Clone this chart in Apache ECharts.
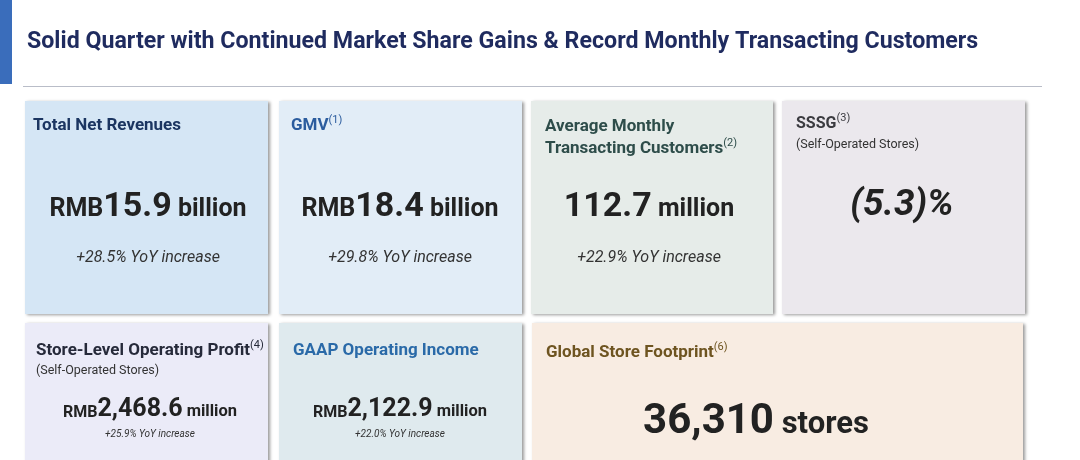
<!DOCTYPE html>
<html><head><meta charset="utf-8">
<script src="https://cdn.jsdelivr.net/npm/echarts@6/dist/echarts.min.js"></script>
<style>html,body{margin:0;padding:0;background:#fff}#c{width:1080px;height:460px}</style>
</head><body><div id="c"></div>
<script>
// ---------------- DATA ----------------
const pageTitle = 'Solid Quarter with Continued Market Share Gains & Record Monthly Transacting Customers';
const metricNames = [['Total Net Revenues'], ['GMV'], ['Average Monthly', 'Transacting Customers'], ['SSSG'],
  ['Store-Level Operating Profit'], ['GAAP Operating Income'], ['Global Store Footprint']];
const footnotes = ['', '1', '2', '3', '4', '', '6'];
const qualifiers = ['', '', '', '(Self-Operated Stores)', '(Self-Operated Stores)', '', ''];
const currencies = ['RMB', 'RMB', '', '', 'RMB', 'RMB', ''];
const metricValues = [15.9, 18.4, 112.7, -5.3, 2468.6, 2122.9, 36310];
const valueDecimals = [1, 1, 1, 1, 1, 1, 0];
const units = ['billion', 'billion', 'million', '%', 'million', 'million', 'stores'];
const yoyGrowth = [28.5, 29.8, 22.9, null, 25.9, 22.0, null];

// ---------------- LAYOUT / STYLE ----------------
const FONT = 'Roboto, "Open Sans", sans-serif';
const cards = [
  {x: 25, y: 101, w: 243, h: 213, bg: '#d5e6f5', tc: '#1b3561', tx: 33, ty: 126, vx: 148, vy: 207, yy: 258, s: 'L'},
  {x: 279, y: 101, w: 243, h: 213, bg: '#e2edf7', tc: '#2b5c9e', tx: 291, ty: 126, vx: 400, vy: 207, yy: 258, s: 'L'},
  {x: 531, y: 101, w: 242, h: 213, bg: '#e6ece9', tc: '#2e4d4a', tx: 545, ty: 127, vx: 649, vy: 207, yy: 258, s: 'L'},
  {x: 782, y: 101, w: 243, h: 213, bg: '#ebe8ed', tc: '#3b3b40', tx: 796, ty: 124, qy: 145, vx: 902, vy: 206, s: 'I', tfs: 16},
  {x: 25, y: 323, w: 243, h: 150, bg: '#ebebf8', tc: '#262a3a', tx: 36, ty: 351, qy: 371, vx: 150, vy: 410, yy: 434, s: 'S'},
  {x: 279, y: 323, w: 243, h: 150, bg: '#dfeaee', tc: '#2a6aa8', tx: 293, ty: 351, vx: 400, vy: 410, yy: 434, s: 'S'},
  {x: 532, y: 323, w: 491, h: 150, bg: '#f8ece2', tc: '#6e5420', tx: 546, ty: 353, vx: 756, vy: 422, s: 'X'}
];
const valueStyles = {
  L: {cur: 25, num: 34, unit: 25, yoy: 16},
  S: {cur: 16, num: 25, unit: 16.5, yoy: 10},
  X: {cur: 20, num: 42, unit: 31, yoy: 12},
  I: {cur: 20, num: 37, unit: 37, yoy: 12}
};

function fmtValue(v, d) {
  const s = Math.abs(v).toLocaleString('en-US', {minimumFractionDigits: d, maximumFractionDigits: d});
  return v < 0 ? '(' + s + ')' : s;
}

const graphics = [];
// header bar + title + rule
graphics.push({type: 'rect', shape: {x: 0, y: 0, width: 12, height: 84}, style: {fill: '#3a6dbb'}});
graphics.push({type: 'text', x: 27, y: 42, style: {text: pageTitle, font: 'bold 23.2px ' + FONT, fill: '#1f2b5f', textVerticalAlign: 'middle'}});
graphics.push({type: 'rect', shape: {x: 23, y: 86, width: 1019, height: 1}, style: {fill: '#b9bdc8'}});

cards.forEach((c, i) => {
  graphics.push({type: 'rect', shape: {x: c.x, y: c.y, width: c.w, height: c.h},
    style: {fill: c.bg, shadowBlur: 3, shadowOffsetX: 2, shadowOffsetY: 1, shadowColor: 'rgba(0,0,0,0.4)'}});
  const tfs = c.tfs || 17;
  const lines = metricNames[i].map(n => '{t|' + n + '}');
  if (footnotes[i]) lines[lines.length - 1] += '{s|(' + footnotes[i] + ')}';
  const lh = 22;
  graphics.push({type: 'text', x: c.tx, y: c.ty - lh / 2, style: {
    text: lines.join('\n'), textVerticalAlign: 'top',
    rich: {
      t: {font: 'bold ' + tfs + 'px ' + FONT, fill: c.tc, lineHeight: lh},
      s: {font: '11px ' + FONT, fill: c.tc, lineHeight: 14, verticalAlign: 'top'}
    }}});
  if (qualifiers[i]) {
    graphics.push({type: 'text', x: c.tx, y: c.qy, style: {text: qualifiers[i], font: '12.5px ' + FONT, fill: '#333', textVerticalAlign: 'middle'}});
  }
  const vs = valueStyles[c.s];
  const ital = c.s === 'I' ? 'italic ' : '';
  let parts = '';
  if (currencies[i]) parts += '{c|' + currencies[i] + '}';
  parts += '{n|' + fmtValue(metricValues[i], valueDecimals[i]) + '}';
  if (units[i] === '%') parts += '{n|%}';
  else parts += '{u| ' + units[i] + '}';
  graphics.push({type: 'text', x: c.vx, y: c.vy, style: {
    text: parts, textAlign: 'center', textVerticalAlign: 'middle',
    rich: {
      c: {font: 'bold ' + vs.cur + 'px ' + FONT, fill: '#222', verticalAlign: 'bottom', padding: [0, 0, Math.round((vs.num - vs.cur) * 0.2), 0]},
      n: {font: ital + 'bold ' + vs.num + 'px ' + FONT, fill: '#222', verticalAlign: 'bottom'},
      u: {font: 'bold ' + vs.unit + 'px ' + FONT, fill: '#222', verticalAlign: 'bottom', padding: [0, 0, Math.round((vs.num - vs.unit) * 0.2), 0]}
    }}});
  if (yoyGrowth[i] !== null) {
    graphics.push({type: 'text', x: c.vx, y: c.yy, style: {
      text: '+' + yoyGrowth[i].toFixed(1) + '% YoY increase', textAlign: 'center', textVerticalAlign: 'middle',
      font: 'italic ' + vs.yoy + 'px ' + FONT, fill: '#333'}});
  }
});

const chart = echarts.init(document.getElementById('c'), null, {renderer: 'canvas'});
chart.setOption({backgroundColor: '#ffffff', animation: false, graphic: {elements: graphics}});
</script></body></html>
